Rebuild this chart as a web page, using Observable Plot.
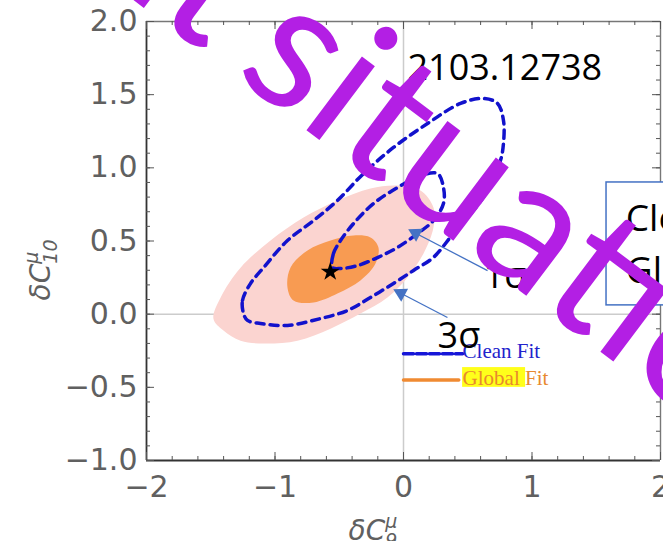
<!DOCTYPE html>
<html>
<head>
<meta charset="utf-8">
<script src="https://cdn.jsdelivr.net/npm/d3@7"></script>
<script src="https://cdn.jsdelivr.net/npm/@observablehq/plot@0.6"></script>
<style>
  html, body { margin: 0; padding: 0; background: #fff; overflow: hidden; width: 663px; height: 541px; }
  #chart { position: relative; width: 663px; height: 541px; }
</style>
</head>
<body>
<div id="chart"></div>
<script>
// ---- axis ticks ----
const xTickValues = [-2, -1, 0, 1, 2];
const yTickValues = [-1, -0.5, 0, 0.5, 1, 1.5, 2];
const xMinorTicks = [-2, -1.8, -1.6, -1.4, -1.2, -1, -0.8, -0.6, -0.4, -0.2, 0, 0.2, 0.4, 0.6, 0.8, 1, 1.2, 1.4, 1.6, 1.8, 2];
const yMinorTicks = [-1, -0.9, -0.8, -0.7, -0.6, -0.5, -0.4, -0.3, -0.2, -0.1, 0, 0.1, 0.2, 0.3, 0.4, 0.5, 0.6, 0.7, 0.8, 0.9, 1, 1.1, 1.2, 1.3, 1.4, 1.5, 1.6, 1.7, 1.8, 1.9, 2];

// ---- fit regions in the (δC9, δC10) plane ----
// global fit, 3σ contour
const globalFit3Sigma = [
  [-1.479, -0.031], [-1.424, 0.113], [-1.268, 0.318], [-1.035, 0.503], [-0.778, 0.660],
  [-0.514, 0.777], [-0.257, 0.859], [-0.047, 0.879], [0.132, 0.845], [0.233, 0.729],
  [0.233, 0.592], [0.156, 0.415], [0.031, 0.251], [-0.125, 0.114], [-0.335, 0.004],
  [-0.568, -0.099], [-0.825, -0.181], [-1.089, -0.201], [-1.268, -0.181], [-1.401, -0.112]
];
// global fit, 1σ contour
const globalFit1Sigma = [
  [-0.903, 0.182], [-0.879, 0.319], [-0.747, 0.435], [-0.568, 0.503], [-0.389, 0.538],
  [-0.257, 0.524], [-0.195, 0.456], [-0.218, 0.346], [-0.335, 0.230], [-0.514, 0.141],
  [-0.700, 0.080], [-0.856, 0.093]
];
// clean fit, 3σ contour
const cleanFit3Sigma = [
  [-1.245, 0.005], [-1.253, 0.093], [-1.191, 0.209], [-1.089, 0.318], [-0.903, 0.503],
  [-0.700, 0.640], [-0.514, 0.777], [-0.311, 0.961], [-0.078, 1.139], [0.187, 1.303],
  [0.444, 1.440], [0.623, 1.474], [0.732, 1.440], [0.778, 1.324], [0.778, 1.167],
  [0.755, 1.051], [0.654, 0.846], [0.545, 0.709], [0.389, 0.552], [0.233, 0.388],
  [0.078, 0.299], [-0.078, 0.210], [-0.257, 0.114], [-0.436, 0.025], [-0.646, -0.030],
  [-0.903, -0.077], [-1.113, -0.064], [-1.214, -0.043]
];
// clean fit, 1σ contour
const cleanFit1Sigma = [
  [-0.553, 0.319], [-0.545, 0.414], [-0.490, 0.503], [-0.389, 0.619], [-0.233, 0.756],
  [-0.047, 0.865], [0.132, 0.947], [0.265, 0.961], [0.311, 0.865], [0.311, 0.756],
  [0.233, 0.640], [0.109, 0.551], [-0.047, 0.456], [-0.202, 0.387], [-0.358, 0.332],
  [-0.490, 0.312]
];
// best-fit point
const bestFit = [[-0.57, 0.29]];

// ---- annotations ----
const arxivId = [{x: 0.031, y: 1.598, text: "2103.12738"}];
const sigmaLabels = [
  {x: 0.623, y: 0.182, text: "1σ"},
  {x: 0.265, y: -0.228, text: "3σ"}
];
const sigmaArrows = [
  {x1: 0.654, y1: 0.298, x2: 0.054, y2: 0.572},
  {x1: 0.342, y1: -0.023, x2: -0.062, y2: 0.162}
];
// inset legend
const legendCleanLine = [[0, -0.27], [0.46, -0.27]];
const legendGlobalLine = [[0, -0.45], [0.43, -0.45]];
const legendHighlight = [{x1: 0.46, x2: 0.95, y1: -0.50, y2: -0.365}];
const legendLabels = [
  {x: 0.46, y: -0.30, text: "Clean Fit", color: "#2222cc"},
  {x: 0.46, y: -0.487, text: "Global Fit", color: "#e8892e"}
];
// side box
const sideBox = [{x1: 1.58, x2: 2.6, y1: 0.06, y2: 0.90}];
const sideBoxLabels = [
  {x: 1.73, y: 0.57, text: "Clean"},
  {x: 1.73, y: 0.21, text: "Global"}
];
// slide watermark: first word ends at its point, second word starts at its point
const watermarkFirst = [{x: -1.549, y: 1.781, text: "Current"}];
const watermarkSecond = [{x: -1.331, y: 1.638, text: "situation"}];

// ---- layout ----
const W = 663, H = 541;
const margin = {top: 21, right: 3, bottom: 81, left: 146};
const xDomain = [-2, 2], yDomain = [-1, 2];
const innerW = W - margin.left - margin.right;
const innerH = H - margin.top - margin.bottom;
const kx = innerW / (xDomain[1] - xDomain[0]);
const ky = innerH / (yDomain[1] - yDomain[0]);

const rows = (pts) => pts.map(([x, y]) => ({x, y}));

// filled arrow heads sit just behind each tip, turned along the shaft
const arrowHeads = sigmaArrows.map((a) => {
  const dxp = (a.x1 - a.x2) * kx, dyp = -(a.y1 - a.y2) * ky;
  const len = Math.hypot(dxp, dyp), back = 6;
  return {
    x: a.x2 + (a.x1 - a.x2) * back / len,
    y: a.y2 + (a.y1 - a.y2) * back / len,
    rotate: Math.atan2(-dxp, dyp) * 180 / Math.PI
  };
});

const majorLen = 8, minorLen = 4;
const tickColor = "#555";
const labelColor = "#606060";
const cleanBlue = "#1212cc";
const watermarkStyle = {x: "x", y: "y", text: "text", lineAnchor: "bottom", rotate: 37, fontSize: 182, fontFamily: "Lato, 'Open Sans', sans-serif", fill: "#b31fe4"};

const plot = Plot.plot({
  width: W,
  height: H,
  marginTop: margin.top,
  marginRight: margin.right,
  marginBottom: margin.bottom,
  marginLeft: margin.left,
  x: {domain: xDomain, label: null},
  y: {domain: yDomain, label: null},
  style: {fontFamily: "'DejaVu Sans', sans-serif", background: "white", overflow: "visible"},
  marks: [
    // zero lines
    Plot.ruleX([0], {stroke: "#cccccc", strokeWidth: 1.5}),
    Plot.ruleY([0], {stroke: "#cccccc", strokeWidth: 1.5}),

    // global fit regions
    Plot.line(rows(globalFit3Sigma), {x: "x", y: "y", curve: "catmull-rom-closed", fill: "#fbd4d0", stroke: "none"}),
    Plot.line(rows(globalFit1Sigma), {x: "x", y: "y", curve: "catmull-rom-closed", fill: "#f89b52", stroke: "none"}),

    // clean fit contours
    Plot.line(rows(cleanFit3Sigma), {x: "x", y: "y", curve: "catmull-rom-closed", stroke: cleanBlue, strokeWidth: 3.5, strokeDasharray: "8,6"}),
    Plot.line(rows(cleanFit1Sigma), {x: "x", y: "y", curve: "catmull-rom-closed", stroke: cleanBlue, strokeWidth: 3.5, strokeDasharray: "8,6"}),

    Plot.dot(rows(bestFit), {x: "x", y: "y", symbol: "star", r: 6, fill: "black", stroke: "none"}),

    // frame
    Plot.ruleX([xDomain[0]], {stroke: "#333", strokeWidth: 1.8}),
    Plot.ruleY([yDomain[0]], {stroke: "#333", strokeWidth: 1.8}),
    Plot.ruleX([xDomain[1]], {stroke: "#777", strokeWidth: 1.4}),
    Plot.ruleY([yDomain[1]], {stroke: "#777", strokeWidth: 1.4}),

    // inward ticks on all four sides
    Plot.tickX(xMinorTicks, {x: (d) => d, insetTop: innerH - minorLen, stroke: tickColor}),
    Plot.tickX(xTickValues, {x: (d) => d, insetTop: innerH - majorLen, stroke: tickColor}),
    Plot.tickX(xMinorTicks, {x: (d) => d, insetBottom: innerH - minorLen, stroke: tickColor}),
    Plot.tickX(xTickValues, {x: (d) => d, insetBottom: innerH - majorLen, stroke: tickColor}),
    Plot.tickY(yMinorTicks, {y: (d) => d, insetRight: innerW - minorLen, stroke: tickColor}),
    Plot.tickY(yTickValues, {y: (d) => d, insetRight: innerW - majorLen, stroke: tickColor}),
    Plot.tickY(yMinorTicks, {y: (d) => d, insetLeft: innerW - minorLen, stroke: tickColor}),
    Plot.tickY(yTickValues, {y: (d) => d, insetLeft: innerW - majorLen, stroke: tickColor}),

    // tick labels
    Plot.axisX({ticks: xTickValues, tickSize: 0, tickPadding: 15, fontSize: 30, color: labelColor, tickFormat: d3.format("d"), label: null}),
    Plot.axisY({ticks: yTickValues, tickSize: 0, tickPadding: 9, fontSize: 30, color: labelColor, tickFormat: d3.format(".1f"), label: null}),

    // inset legend
    Plot.line(rows(legendCleanLine), {x: "x", y: "y", stroke: "#1616d8", strokeWidth: 3.5, strokeDasharray: "10,3"}),
    Plot.line(rows(legendGlobalLine), {x: "x", y: "y", stroke: "#f08a32", strokeWidth: 3.5}),
    Plot.rect(legendHighlight, {x1: "x1", x2: "x2", y1: "y1", y2: "y2", fill: "#ffff1a"}),
    Plot.text(legendLabels, {x: "x", y: "y", text: "text", fill: "color", textAnchor: "start", lineAnchor: "bottom", fontSize: 21, fontFamily: "'Liberation Serif', serif"}),

    // annotations
    Plot.text(arxivId, {x: "x", y: "y", text: "text", textAnchor: "start", lineAnchor: "bottom", fontSize: 36, fontFamily: "'Open Sans', sans-serif", fill: "black"}),
    Plot.text(sigmaLabels, {x: "x", y: "y", text: "text", textAnchor: "start", lineAnchor: "bottom", fontSize: 36, fontFamily: "'Open Sans', sans-serif", fill: "black"}),
    Plot.link(sigmaArrows, {x1: "x1", y1: "y1", x2: "x2", y2: "y2", stroke: "#4472c4", strokeWidth: 1.3}),
    Plot.dot(arrowHeads, {x: "x", y: "y", rotate: "rotate", symbol: "triangle", r: 5.5, fill: "#4472c4", stroke: "none"}),

    // side box
    Plot.rect(sideBox, {x1: "x1", x2: "x2", y1: "y1", y2: "y2", fill: "white", stroke: "#4472c4", strokeWidth: 1.5}),
    Plot.text(sideBoxLabels, {x: "x", y: "y", text: "text", textAnchor: "start", lineAnchor: "bottom", fontSize: 37, fontFamily: "'Open Sans', sans-serif", fill: "black"}),

    // watermark
    Plot.text(watermarkFirst, {...watermarkStyle, textAnchor: "end"}),
    Plot.text(watermarkSecond, {...watermarkStyle, textAnchor: "start"})
  ]
});

const svg = d3.select(plot);

// axis titles: δC9^μ and δC10^μ
const xTitle = svg.append("text")
  .attr("x", 373).attr("y", 540)
  .attr("fill", labelColor).attr("font-size", 28).attr("font-style", "italic")
  .attr("font-family", "'DejaVu Sans', sans-serif");
xTitle.append("tspan").text("δC");
xTitle.append("tspan").attr("dy", -12).attr("font-size", 19).text("μ");
xTitle.append("tspan").attr("dx", -12).attr("dy", 19).attr("font-size", 19).text("9");

const yTitle = svg.append("text")
  .attr("transform", "translate(50,270) rotate(-90)")
  .attr("fill", labelColor).attr("font-size", 28).attr("font-style", "italic")
  .attr("font-family", "'DejaVu Sans', sans-serif");
yTitle.append("tspan").text("δC");
yTitle.append("tspan").attr("dy", -12).attr("font-size", 19).text("μ");
yTitle.append("tspan").attr("dx", -12).attr("dy", 19).attr("font-size", 19).text("10");

document.getElementById("chart").appendChild(plot);
</script>
</body>
</html>
